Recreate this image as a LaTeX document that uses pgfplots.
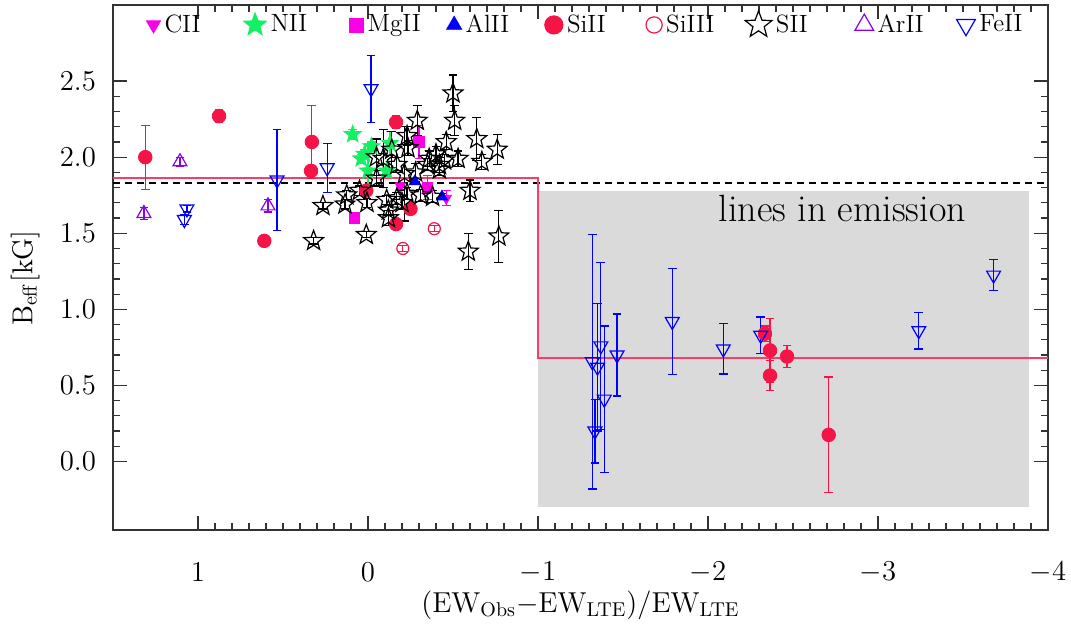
\documentclass[border=0pt]{standalone}
\usepackage{pgfplots}
\pgfplotsset{compat=1.18}
\usetikzlibrary{plotmarks}

\definecolor{sired}{RGB}{245,20,70}
\definecolor{nigreen}{RGB}{20,240,100}
\definecolor{mgmag}{RGB}{250,0,230}
\definecolor{arviolet}{RGB}{140,0,240}
\definecolor{emgray}{RGB}{218,218,218}
\definecolor{fitred}{RGB}{250,60,105}

% five pointed star, open and filled
\pgfdeclareplotmark{pstar}{%
  \pgfpathmoveto{\pgfpointpolar{90}{\pgfplotmarksize}}%
  \pgfpathlineto{\pgfpointpolar{126}{0.42\pgfplotmarksize}}%
  \pgfpathlineto{\pgfpointpolar{162}{\pgfplotmarksize}}%
  \pgfpathlineto{\pgfpointpolar{198}{0.42\pgfplotmarksize}}%
  \pgfpathlineto{\pgfpointpolar{234}{\pgfplotmarksize}}%
  \pgfpathlineto{\pgfpointpolar{270}{0.42\pgfplotmarksize}}%
  \pgfpathlineto{\pgfpointpolar{306}{\pgfplotmarksize}}%
  \pgfpathlineto{\pgfpointpolar{342}{0.42\pgfplotmarksize}}%
  \pgfpathlineto{\pgfpointpolar{18}{\pgfplotmarksize}}%
  \pgfpathlineto{\pgfpointpolar{54}{0.42\pgfplotmarksize}}%
  \pgfpathclose\pgfusepathqstroke}
\pgfdeclareplotmark{pstar*}{%
  \pgfpathmoveto{\pgfpointpolar{90}{\pgfplotmarksize}}%
  \pgfpathlineto{\pgfpointpolar{126}{0.42\pgfplotmarksize}}%
  \pgfpathlineto{\pgfpointpolar{162}{\pgfplotmarksize}}%
  \pgfpathlineto{\pgfpointpolar{198}{0.42\pgfplotmarksize}}%
  \pgfpathlineto{\pgfpointpolar{234}{\pgfplotmarksize}}%
  \pgfpathlineto{\pgfpointpolar{270}{0.42\pgfplotmarksize}}%
  \pgfpathlineto{\pgfpointpolar{306}{\pgfplotmarksize}}%
  \pgfpathlineto{\pgfpointpolar{342}{0.42\pgfplotmarksize}}%
  \pgfpathlineto{\pgfpointpolar{18}{\pgfplotmarksize}}%
  \pgfpathlineto{\pgfpointpolar{54}{0.42\pgfplotmarksize}}%
  \pgfpathclose\pgfusepathqfillstroke}

\pgfplotsset{
  ebar/.style={error bars/.cd, y dir=both, y explicit,
    error bar style={line width=0.6pt, #1},
    error mark options={rotate=90, mark size=2.2pt, line width=0.6pt, #1}},
}
\newcommand{\legtxt}[1]{\makebox[37.5pt][l]{#1}}

\begin{document}
\begin{tikzpicture}
\begin{axis}[
  scale only axis, width=467.5pt, height=262.5pt,
  x dir=reverse, xmin=-4, xmax=1.5, ymin=-0.45, ymax=3.0,
  xtick={-4,-3,-2,-1,0,1}, ytick={0,0.5,1,1.5,2,2.5},
  minor x tick num=9, minor y tick num=4,
  major tick length=7pt, minor tick length=3.5pt,
  tick style={black!80, line width=0.6pt},
  axis line style={black!80, line width=0.8pt},
  tick label style={font=\fontsize{14.5}{17}\selectfont},
  xticklabel style={anchor=center, yshift=-21pt},
  yticklabel style={xshift=-5pt, /pgf/number format/.cd, fixed, fixed zerofill, precision=1},
  xlabel={$(\mathrm{EW_{Obs}}{-}\mathrm{EW_{LTE}})/\mathrm{EW_{LTE}}$},
  ylabel={$\mathrm{B_{eff}[kG]}$},
  label style={font=\fontsize{14.5}{18}\selectfont},
  xlabel style={at={(axis description cs:0.5,0)}, anchor=center, yshift=-37.5pt},
  ylabel style={at={(axis description cs:-0.094,0.48)}, anchor=center},
  legend columns=9,
  legend style={draw=none, fill=none, at={(0.029,0.962)}, anchor=west,
    font=\fontsize{12.5}{15}\selectfont},
  legend image code/.code={\draw[mark repeat=2,mark phase=2] plot coordinates {(0cm,0cm)(0.2cm,0cm)(0.4cm,0cm)};},
  legend image post style={every mark/.append style={scale=1.35}},
]
% emission region and fitted levels
\addplot[fill=emgray, draw=none, forget plot] coordinates {(-1,-0.30) (-3.89,-0.30) (-3.89,1.78) (-1,1.78)};
\addplot[black, line width=0.6pt, dash pattern=on 3.5pt off 2.5pt, forget plot] coordinates {(1.5,1.83) (-4,1.83)};
\addplot[color=fitred, line width=1pt, forget plot] coordinates {(1.5,1.865) (-1,1.865) (-1,0.68) (-4,0.68)};

% CII
\addplot[only marks, mgmag, mark=triangle*, mark size=3pt, mark options={rotate=180, fill=mgmag}, ebar=mgmag]
  coordinates {(-0.19,1.81) +- (0,0.02) (-0.46,1.73) +- (0,0.05)};
\addlegendentry{\legtxt{CII}}
% NII
\addplot[only marks, nigreen, mark=pstar*, mark size=4.5pt, mark options={fill=nigreen}, ebar=nigreen]
  coordinates {(0.09,2.15) +- (0,0.03) (-0.02,2.07) +- (0,0.03) (0.02,2.02) +- (0,0.03)
    (0.0,1.91) +- (0,0.09) (-0.13,2.09) +- (0,0.08) (-0.11,1.91) +- (0,0.04) (0.04,1.99) +- (0,0.03)};
\addlegendentry{\legtxt{NII}}
% MgII
\addplot[only marks, mgmag, mark=square*, mark size=2.6pt, mark options={fill=mgmag}, ebar=mgmag]
  coordinates {(0.08,1.60) +- (0,0.02) (-0.30,2.10) +- (0,0.11) (-0.35,1.80) +- (0,0.08)};
\addlegendentry{\legtxt{MgII}}
% AlII
\addplot[only marks, blue, mark=triangle*, mark size=3.2pt, mark options={fill=blue}, ebar=blue]
  coordinates {(-0.275,1.84) +- (0,0.02) (-0.435,1.74) +- (0,0.02)};
\addlegendentry{\legtxt{AlII}}
% SiII
\addplot[only marks, sired, mark=*, mark size=3.4pt, mark options={fill=sired}, ebar=sired]
  coordinates {(1.31,2.00) +- (0,0.21) (0.876,2.27) +- (0,0.04) (0.61,1.45) +- (0,0.01)
    (0.33,2.10) +- (0,0.24) (0.335,1.91) +- (0,0.01) (-0.165,2.23) +- (0,0.04)
    (0.01,1.78) +- (0,0.01) (-0.25,1.66) +- (0,0.01) (-0.165,1.56) +- (0,0.01)
    (-2.335,0.84) +- (0,0.05) (-2.365,0.73) +- (0,0.21) (-2.365,0.565) +- (0,0.10)
    (-2.465,0.69) +- (0,0.07) (-2.71,0.175) +- (0,0.38)};
\addlegendentry{\legtxt{SiII}}
% SiIII
\addplot[only marks, sired, mark=o, mark size=3pt, mark options={line width=0.6pt}, ebar=sired]
  coordinates {(-0.39,1.53) +- (0,0.02) (-0.205,1.40) +- (0,0.02)};
\addlegendentry{\legtxt{SiIII}}
% SII
\addplot[only marks, black, mark=pstar, mark size=5.2pt, mark options={line width=0.6pt}, ebar=black]
  coordinates {(0.32,1.45) +- (0,0.02) (0.265,1.68) +- (0,0.02) (0.125,1.75) +- (0,0.03)
    (0.135,1.69) +- (0,0.03) (0.006,1.70) +- (0,0.03) (0.01,1.49) +- (0,0.02)
    (-0.11,1.72) +- (0,0.03) (-0.12,1.65) +- (0,0.03) (-0.17,1.73) +- (0,0.04)
    (-0.23,1.76) +- (0,0.04) (-0.31,1.75) +- (0,0.04) (-0.38,1.74) +- (0,0.04)
    (-0.42,1.92) +- (0,0.04) (-0.09,1.99) +- (0,0.19) (-0.235,2.06) +- (0,0.05)
    (-0.23,2.14) +- (0,0.06) (-0.29,2.24) +- (0,0.10) (-0.36,1.99) +- (0,0.05)
    (-0.42,1.95) +- (0,0.05) (-0.46,2.10) +- (0,0.05) (-0.50,2.42) +- (0,0.12)
    (-0.51,2.24) +- (0,0.10) (-0.53,1.99) +- (0,0.05) (-0.64,2.12) +- (0,0.14)
    (-0.67,1.97) +- (0,0.05) (-0.76,2.05) +- (0,0.10) (-0.60,1.78) +- (0,0.07)
    (-0.59,1.38) +- (0,0.12) (-0.77,1.48) +- (0,0.17) (-0.17,1.95) +- (0,0.05)
    (-0.35,1.95) +- (0,0.04) (-0.05,1.86) +- (0,0.05) (-0.14,2.05) +- (0,0.12)
    (-0.12,1.60) +- (0,0.05) (-0.28,1.90) +- (0,0.06) (-0.40,2.02) +- (0,0.05)
    (-0.45,1.98) +- (0,0.04) (-0.05,2.00) +- (0,0.12) (0.05,1.78) +- (0,0.03)
    (-0.20,1.70) +- (0,0.04) (-0.215,1.89) +- (0,0.31)};
\addlegendentry{\legtxt{SII}}
% ArII
\addplot[only marks, arviolet, mark=triangle, mark size=4pt, mark options={line width=0.6pt}, ebar=arviolet]
  coordinates {(1.318,1.63) +- (0,0.04) (1.106,1.97) +- (0,0.03) (0.588,1.68) +- (0,0.04)};
\addlegendentry{\legtxt{ArII}}
% FeII
\addplot[only marks, blue, mark=triangle, mark size=4pt, mark options={rotate=180, line width=0.6pt}, ebar=blue]
  coordinates {(1.065,1.66) +- (0,0.02) (1.08,1.59) +- (0,0.03) (0.535,1.85) +- (0,0.33)
    (0.24,1.93) +- (0,0.16) (-0.018,2.45) +- (0,0.22)
    (-1.32,0.655) +- (0,0.835) (-1.37,0.76) +- (0,0.55) (-1.35,0.62) +- (0,0.42)
    (-1.335,0.20) +- (0,0.21) (-1.39,0.41) +- (0,0.48) (-1.465,0.70) +- (0,0.27)
    (-1.79,0.92) +- (0,0.35) (-2.09,0.74) +- (0,0.165) (-2.31,0.83) +- (0,0.12)
    (-3.24,0.86) +- (0,0.12) (-3.68,1.225) +- (0,0.10)};
\addlegendentry{\legtxt{FeII}}

\node[anchor=base, font=\fontsize{19}{22}\selectfont] at (axis cs:-2.79,1.58) {lines in emission};
\end{axis}
\pgfresetboundingbox
\path[use as bounding box] ([xshift=-56.5pt,yshift=-49pt]current axis.south west) rectangle ([xshift=479pt,yshift=265pt]current axis.south west);
\end{tikzpicture}
\end{document}
